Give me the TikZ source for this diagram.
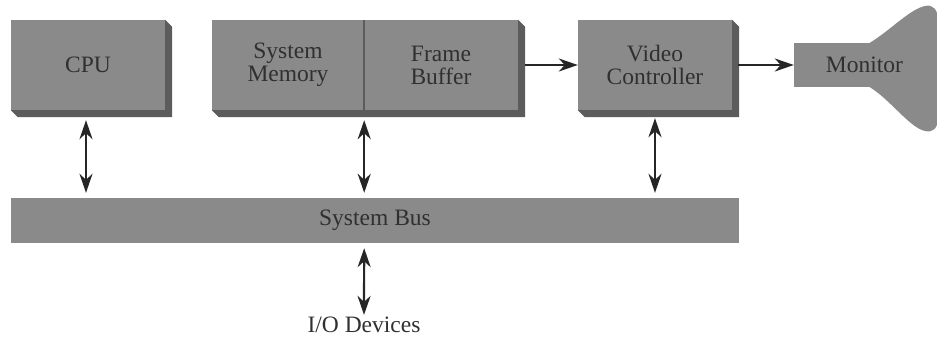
\documentclass[tikz,border=0pt]{standalone}
\usepackage{fontspec}
\setmainfont{Liberation Serif}
\usetikzlibrary{positioning, arrows.meta, calc, backgrounds}

\definecolor{boxgray}{HTML}{8A8A8A}
\definecolor{shadegray}{HTML}{5C5C5C}
\definecolor{inkgray}{HTML}{303030}

% dark extruded side of a block, from the left node to the right node
\newcommand{\blockshadow}[2]{%
    \fill[shadegray] (#2.north east) -- ++(7,7) -- ($(#2.south east)+(7,7)$)
        -- ($(#1.south west)+(7,7)$) -- (#1.south west) -- cycle;}

\begin{document}
\begin{tikzpicture}[
    x=1pt, y=-1pt,
    block/.style={rectangle, fill=boxgray, text=inkgray, align=center, inner sep=0pt,
        minimum height=90pt, font=\fontsize{23.5}{23}\selectfont},
    link/.style={draw=black!85, line width=2.2pt, -{Stealth[length=19pt, width=13pt, inset=6pt]}},
    both/.style={link, {Stealth[length=19pt, width=13pt, inset=6pt]}-{Stealth[length=19pt, width=13pt, inset=6pt]}}
]
    \useasboundingbox (0,0) rectangle (937,337);

    \node[block, minimum width=154pt] (cpu) at (88,65) {CPU};
    \node[block, minimum width=152pt] (mem) at (288,65) {System\\Memory};
    \node[block, minimum width=154pt] (fb) at (441,65) {Frame\\Buffer};
    \node[block, minimum width=154pt] (video) at (655,65) {Video\\Controller};
    \node[block, minimum width=141pt, minimum height=44pt] (monitor) at (864.5,65) {Monitor};
    \node[block, minimum width=728pt, minimum height=45pt] (bus) at (375,220.5) {System Bus};
    \node[text=inkgray, inner sep=2pt, font=\fontsize{23.5}{23}\selectfont] (io) at (364,325) {I/O Devices};

    % shadows and screen
    \begin{scope}[on background layer]
        \blockshadow{cpu}{cpu}
        \blockshadow{mem}{fb}
        \blockshadow{video}{video}
        \coordinate (neck top) at ($(monitor.north west)+(76,0)$);
        \coordinate (neck bottom) at ($(monitor.south west)+(76,0)$);
        \fill[boxgray] (neck top) .. controls +(20,-12) and +(-15,3) .. (925,6)
            .. controls (933,4) and (938,10) .. (938,20) -- (938,118)
            .. controls (938,128) and (933,133) .. (925,131)
            .. controls +(-15,-3) and +(20,12) .. (neck bottom) -- cycle;
    \end{scope}
    \draw[shadegray, line width=1.5pt] (mem.north east) -- (mem.south east);

    \draw[link] ([xshift=7pt]fb.east) -- (video.west);
    \draw[link] ([xshift=6pt]video.east) -- (monitor.west);

    \draw[both] ($(cpu.south)+(-2,10)$) -- ($(bus.north -| cpu.south)+(-2,-5)$);
    \draw[both] ($(mem.south east)+(0,10)$) -- ($(bus.north -| mem.south east)+(0,-5)$);
    \draw[both] ($(video.south)+(0,8)$) -- ($(bus.north -| video.south)+(0,-5)$);
    \draw[both] ($(bus.south -| mem.south east)+(0,5)$) -- (io.north);

\end{tikzpicture}
\end{document}
